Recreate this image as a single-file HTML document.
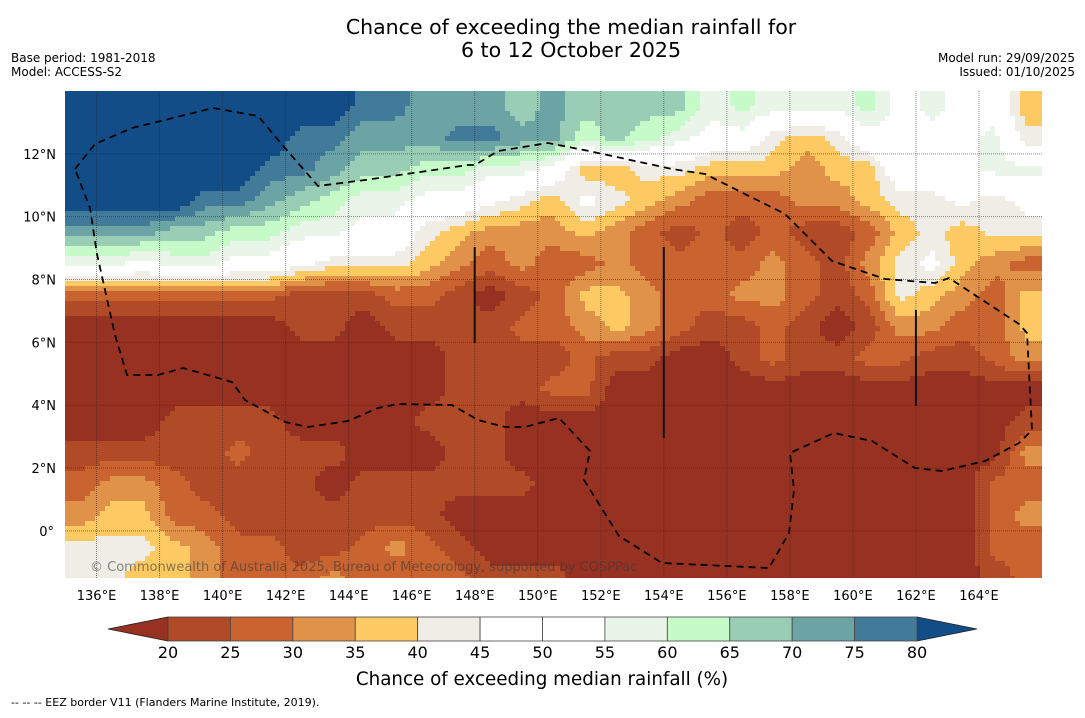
<!DOCTYPE html>
<html><head><meta charset="utf-8">
<style>
body{margin:0;background:#fff;width:1085px;height:713px;overflow:hidden;font-family:"Liberation Sans","DejaVu Sans",sans-serif;}
svg text{font-family:"DejaVu Sans","Liberation Sans",sans-serif;}
</style></head>
<body>
<svg id="chart" width="1085" height="713" viewBox="0 0 1085 713">
<text x="571" y="34" text-anchor="middle" font-size="20.5" fill="#000">Chance of exceeding the median rainfall for</text>
<text x="571" y="57" text-anchor="middle" font-size="20.5" fill="#000">6 to 12 October 2025</text>
<text x="11" y="62" font-size="12">Base period: 1981-2018</text>
<text x="11" y="76" font-size="12">Model: ACCESS-S2</text>
<text x="1075" y="62" font-size="12" text-anchor="end">Model run: 29/09/2025</text>
<text x="1075" y="76" font-size="12" text-anchor="end">Issued: 01/10/2025</text>
<defs><clipPath id="mapclip"><rect x="65" y="91" width="977" height="487"/></clipPath></defs>
<g id="map" clip-path="url(#mapclip)"></g>
<g id="overlay" clip-path="url(#mapclip)"></g>
<g id="axes"></g>
<g id="cbar"></g>
<text x="542" y="685" text-anchor="middle" font-size="18.3">Chance of exceeding median rainfall (%)</text>
<text x="11" y="706" font-size="11">--  --  -- EEZ border V11 (Flanders Marine Institute, 2019).</text>
</svg>
<script>
const NS="http://www.w3.org/2000/svg";
const lonTicks=[136,138,140,142,144,146,148,150,152,154,156,158,160,162,164];
const latTicks=[0,2,4,6,8,10,12];
const binEdges=[20,25,30,35,40,45,50,55,60,65,70,75,80];
const binColors=["#973121","#b04a27","#c9632f","#e09248","#fdc963","#f0ece6","#ffffff","#ffffff","#e9f5e8","#c6fac8","#9acdb6","#6ca3a5","#427a9a","#134d88"];
const gridLons=[135.5,136.5,137.5,138.5,139.5,140.5,141.5,142.5,143.5,144.5,145.5,146.5,147.5,148.5,149.5,150.5,151.5,152.5,153.5,154.5,155.5,156.5,157.5,158.5,159.5,160.5,161.5,162.5,163.5,164.5,165.5];
const gridLats=[13.5,12.5,11.5,10.5,9.5,8.5,7.5,6.5,5.5,4.5,3.5,2.5,1.5,0.5,-0.5,-1.5];
const row0=[85,85,85,85,85,85,85,85,85,77,77,72,72,72,67,72,67,67,67,67,57,62,57,57,57,62,52,57,52,52,37];
const row1=[85,85,85,85,85,85,85,77,77,72,72,72,77,77,72,72,62,67,62,57,52,52,42,37,42,52,52,52,52,57,42];
const row2=[85,85,85,85,85,85,77,77,72,67,67,62,62,57,57,52,37,37,42,42,37,37,37,32,37,37,52,52,52,57,57];
const row3=[85,85,85,85,77,77,72,67,62,57,57,52,52,47,42,37,47,42,37,32,27,27,27,32,32,37,42,42,47,42,47];
const row4=[72,72,72,67,67,62,62,57,57,52,52,42,37,32,32,32,37,32,27,22,27,22,27,22,22,27,37,42,37,42,42];
const row5=[57,57,52,57,57,52,52,47,42,42,42,37,32,27,32,27,27,32,27,27,27,27,32,27,22,32,42,47,37,32,27];
const row6=[27,27,27,27,27,27,27,22,22,22,27,27,22,17,22,27,37,37,32,27,27,32,32,27,22,27,42,37,32,27,37];
const row7=[17,17,17,17,17,17,17,22,22,17,22,22,22,22,27,27,32,37,32,27,22,22,27,22,17,22,32,32,27,27,37];
const row8=[17,17,17,17,17,17,17,17,17,17,17,17,22,22,22,22,27,22,22,17,17,22,27,22,22,27,27,22,22,27,32];
const row9=[17,17,17,17,17,17,17,17,17,17,17,17,22,22,22,27,27,17,17,17,17,17,17,17,17,17,17,17,17,17,17];
const row10=[17,17,17,22,22,22,22,17,17,17,17,22,22,22,17,17,17,17,17,17,17,17,17,17,17,17,17,17,17,17,22];
const row11=[22,22,22,22,22,27,22,22,22,17,17,17,22,22,17,17,17,17,17,17,17,17,17,17,17,17,17,17,17,17,32];
const row12=[27,32,32,27,22,22,22,22,17,22,22,22,22,22,22,17,17,17,17,17,17,17,17,17,17,17,17,17,17,27,27];
const row13=[32,37,37,27,27,22,22,22,22,22,22,22,17,17,17,17,17,17,17,17,17,17,17,17,17,17,17,17,17,27,32];
const row14=[42,42,42,37,32,27,27,22,22,27,32,27,22,17,17,17,17,17,17,17,17,17,17,17,17,17,17,17,17,27,27];
const row15=[42,42,37,37,32,27,27,27,32,27,27,27,27,22,22,22,17,17,17,17,17,17,17,17,17,17,17,17,17,22,27];
const grid=[row0,row1,row2,row3,row4,row5,row6,row7,row8,row9,row10,row11,row12,row13,row14,row15];

const X0=65,X1=1042,Y0=91,Y1=578,LON0=135,LON1=166,LAT0=14,LAT1=-1.5;
function xOf(lon){return X0+(lon-LON0)/(LON1-LON0)*(X1-X0);}
function yOf(lat){return Y0+(LAT0-lat)/(LAT0-LAT1)*(Y1-Y0);}
function lonOf(x){return LON0+(x-X0)/(X1-X0)*(LON1-LON0);}
function latOf(y){return LAT0-(y-Y0)/(Y1-Y0)*(LAT0-LAT1);}
function colorOf(v){let k=0;while(k<binEdges.length&&v>=binEdges[k])k++;return binColors[k];}
function sample(lon,lat){
  let fj=(lon-gridLons[0])/(gridLons[1]-gridLons[0]);
  let fi=(gridLats[0]-lat)/(gridLats[0]-gridLats[1]);
  fj=Math.max(0,Math.min(gridLons.length-1.001,fj));
  fi=Math.max(0,Math.min(grid.length-1.001,fi));
  const j=Math.floor(fj),i=Math.floor(fi),tx=fj-j,ty=fi-i;
  const a=grid[i][j],b=grid[i][j+1],c=grid[i+1][j],d=grid[i+1][j+1];
  return a*(1-tx)*(1-ty)+b*tx*(1-ty)+c*(1-tx)*ty+d*tx*ty;
}
const map=document.getElementById('map');
const STEP=5;
for(let y=Y0;y<Y1;y+=STEP){
  let runStart=X0,runCol=null;
  for(let x=X0;;x+=STEP){
    const done=x>=X1;
    const col=done?null:colorOf(sample(lonOf(x+STEP/2),latOf(y+STEP/2)));
    if(col!==runCol){
      if(runCol){
        const r=document.createElementNS(NS,'rect');
        r.setAttribute('x',runStart);r.setAttribute('y',y);
        r.setAttribute('width',x-runStart+0.5);r.setAttribute('height',STEP+0.5);
        r.setAttribute('fill',runCol);
        
        
        map.appendChild(r);
      }
      runStart=x;runCol=col;
    }
    if(done)break;
  }
}
const ov=document.getElementById('overlay');
function line(x1,y1,x2,y2,st,w,dash,name){
  const l=document.createElementNS(NS,'line');
  l.setAttribute('x1',x1);l.setAttribute('y1',y1);l.setAttribute('x2',x2);l.setAttribute('y2',y2);
  l.setAttribute('stroke',st);l.setAttribute('stroke-width',w);
  if(dash)l.setAttribute('stroke-dasharray',dash);
  
  
  return l;
}
lonTicks.forEach(t=>{ov.appendChild(line(xOf(t),Y0,xOf(t),Y1,'rgba(40,40,40,0.55)',1,'1,1','lon-gridline'));});
latTicks.forEach(t=>{ov.appendChild(line(X0,yOf(t),X1,yOf(t),'rgba(40,40,40,0.55)',1,'1,1','lat-gridline'));});
ov.appendChild(line(xOf(148),247,xOf(148),343,'#111',2,null,'boundary-148e'));
ov.appendChild(line(xOf(154),247,xOf(154),438,'#111',2,null,'boundary-154e'));
ov.appendChild(line(xOf(162),310,xOf(162),406,'#111',2,null,'boundary-162e'));
const eez=[[75,169],[95,144],[132,128],[165,120],[213,108],[258,116],[285,148],[318,186],[365,180],[468,165],[475,165],[498,151],[548,143],[589,151],[672,169],[705,174],[785,214],[832,261],[885,279],[935,283],[949,278],[1019,324],[1027,333],[1032,430],[1019,443],[985,461],[942,471],[915,468],[872,441],[834,433],[790,453],[794,490],[789,533],[769,568],[662,563],[619,536],[584,480],[590,451],[559,418],[525,427],[505,427],[478,420],[452,405],[398,404],[378,408],[348,421],[308,427],[285,422],[245,400],[232,382],[183,368],[158,375],[127,375],[115,335],[97,254],[90,208],[75,169]];
const p=document.createElementNS(NS,'polyline');
p.setAttribute('points',eez.map(q=>q.join(',')).join(' '));
p.setAttribute('fill','none');p.setAttribute('stroke','#000');p.setAttribute('stroke-width','1.8');p.setAttribute('stroke-dasharray','7,5');


ov.appendChild(p);
const cp=document.createElementNS(NS,'text');
cp.setAttribute('x',90);cp.setAttribute('y',571);cp.setAttribute('font-size','13');cp.setAttribute('fill','rgba(60,60,60,0.6)');
cp.textContent='© Commonwealth of Australia 2025, Bureau of Meteorology, supported by COSPPac';


ov.appendChild(cp);

const ax=document.getElementById('axes');
lonTicks.forEach(t=>{
  const tx=document.createElementNS(NS,'text');
  tx.setAttribute('x',xOf(t));tx.setAttribute('y',600);tx.setAttribute('text-anchor','middle');tx.setAttribute('font-size','13');
  tx.textContent=t+'°E';
  
  
  ax.appendChild(tx);
});
latTicks.forEach(t=>{
  const tx=document.createElementNS(NS,'text');
  tx.setAttribute('x',t===0?54:56);tx.setAttribute('y',yOf(t)+5);tx.setAttribute('text-anchor','end');tx.setAttribute('font-size','13');
  tx.textContent=t===0?'0°':t+'°N';
  
  
  ax.appendChild(tx);
});

const cb=document.getElementById('cbar');
const CB0=168,CB1=917,CBY=617,CBH=24;
const bw=(CB1-CB0)/(binEdges.length-1);
const lt=document.createElementNS(NS,'polygon');
lt.setAttribute('points',`108,${CBY+CBH/2} ${CB0},${CBY} ${CB0},${CBY+CBH}`);
lt.setAttribute('fill',binColors[0]);lt.setAttribute('stroke','#222');lt.setAttribute('stroke-width','0.8');


cb.appendChild(lt);
const rt=document.createElementNS(NS,'polygon');
rt.setAttribute('points',`${CB1},${CBY} ${CB1},${CBY+CBH} 977,${CBY+CBH/2}`);
rt.setAttribute('fill',binColors[binColors.length-1]);rt.setAttribute('stroke','#222');rt.setAttribute('stroke-width','0.8');


cb.appendChild(rt);
for(let k=0;k<binEdges.length-1;k++){
  const r=document.createElementNS(NS,'rect');
  r.setAttribute('x',CB0+k*bw);r.setAttribute('y',CBY);r.setAttribute('width',bw);r.setAttribute('height',CBH);
  r.setAttribute('fill',binColors[k+1]);r.setAttribute('stroke','#444');r.setAttribute('stroke-width','0.8');
  
  
  cb.appendChild(r);
}
binEdges.forEach((e,k)=>{
  const tx=document.createElementNS(NS,'text');
  tx.setAttribute('x',CB0+k*bw);tx.setAttribute('y',658);tx.setAttribute('text-anchor','middle');tx.setAttribute('font-size','16');
  tx.textContent=e;
  
  
  cb.appendChild(tx);
});
</script>
</body></html>
